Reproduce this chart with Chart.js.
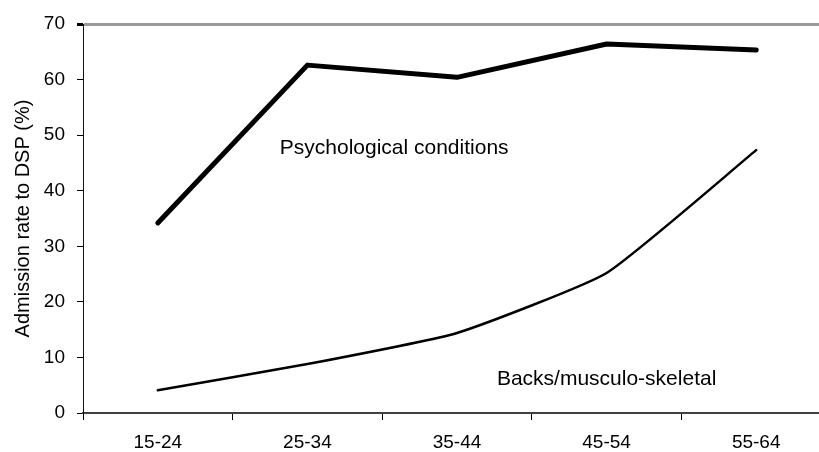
<!DOCTYPE html>
<html>
<head>
<meta charset="utf-8">
<script src="https://cdn.jsdelivr.net/npm/chart.js@4.4.1/dist/chart.umd.min.js"></script>
<style>
    html, body { margin: 0; padding: 0; background: #fff; overflow: hidden; }
    #wrap { width: 819px; height: 452px; overflow: hidden; }
</style>
</head>
<body>
<div id="wrap"><canvas id="chart" width="831" height="452"></canvas></div>
<script>
// Data
const ageGroups = ['15-24', '25-34', '35-44', '45-54', '55-64'];
const psychological = [34.2, 62.6, 60.4, 66.4, 65.3];
const backs = [4.1, 8.8, 14.4, 25.2, 47.3];
const yTicks = [0, 10, 20, 30, 40, 50, 60, 70];

const FONT = "'Liberation Sans', Arial, sans-serif";

// Writes the series names inside the plot, placed in data units
const seriesLabels = {
    id: 'seriesLabels',
    afterDatasetsDraw(chart, args, opts) {
        const ctx = chart.ctx;
        const xs = chart.scales.x;
        const ys = chart.scales.y;
        ctx.save();
        ctx.fillStyle = '#000';
        ctx.font = opts.font;
        ctx.textAlign = 'center';
        ctx.textBaseline = 'middle';
        opts.items.forEach(item => {
            ctx.fillText(item.text, xs.getPixelForValue(item.x), ys.getPixelForValue(item.y));
        });
        ctx.restore();
    }
};

const ctx = document.getElementById('chart').getContext('2d');
const chart = new Chart(ctx, {
    type: 'line',
    data: {
        labels: ageGroups,
        datasets: [{
            label: 'Psychological conditions',
            data: psychological,
            borderColor: '#000',
            borderWidth: 5,
            borderCapStyle: 'round',
            borderJoinStyle: 'round',
            pointRadius: 0,
            tension: 0
        }, {
            label: 'Backs/musculo-skeletal',
            data: backs,
            borderColor: '#000',
            borderWidth: 2.5,
            borderCapStyle: 'round',
            pointRadius: 0,
            tension: 0.15
        }]
    },
    options: {
        responsive: false,
        animation: false,
        layout: { padding: { top: 24, right: 0, bottom: 0, left: 0 } },
        plugins: {
            legend: { display: false },
            tooltip: { enabled: false },
            seriesLabels: {
                font: '21px ' + FONT,
                items: [
                    { text: 'Psychological conditions', x: 1.58, y: 47.7 },
                    { text: 'Backs/musculo-skeletal', x: 3.0, y: 6.1 }
                ]
            }
        },
        scales: {
            x: {
                offset: true,
                afterFit: scale => { scale.height = 39; },
                border: { color: '#404040', width: 2 },
                grid: {
                    offset: true,
                    drawOnChartArea: false,
                    drawTicks: true,
                    tickLength: 7,
                    tickColor: '#000'
                },
                ticks: {
                    color: '#000',
                    padding: 11,
                    maxRotation: 0,
                    font: { family: FONT, size: 19 }
                }
            },
            y: {
                min: 0,
                max: 70,
                afterFit: scale => { scale.width = 83; },
                afterBuildTicks: scale => {
                    scale.ticks = yTicks.map(v => ({ value: v }));
                },
                border: { color: '#111', width: 1 },
                grid: {
                    drawTicks: true,
                    tickLength: 6,
                    tickColor: '#000',
                    color: c => (c.tick && c.tick.value === 70) ? '#999' : 'rgba(0,0,0,0)',
                    lineWidth: c => (c.tick && c.tick.value === 70) ? 3 : 1
                },
                ticks: {
                    color: '#000',
                    padding: 12,
                    font: { family: FONT, size: 19 }
                },
                title: {
                    display: true,
                    text: 'Admission rate to DSP (%)',
                    color: '#000',
                    padding: { top: 11, bottom: 0 },
                    font: { family: FONT, size: 20 }
                }
            }
        }
    },
    plugins: [seriesLabels]
});
</script>
</body>
</html>
